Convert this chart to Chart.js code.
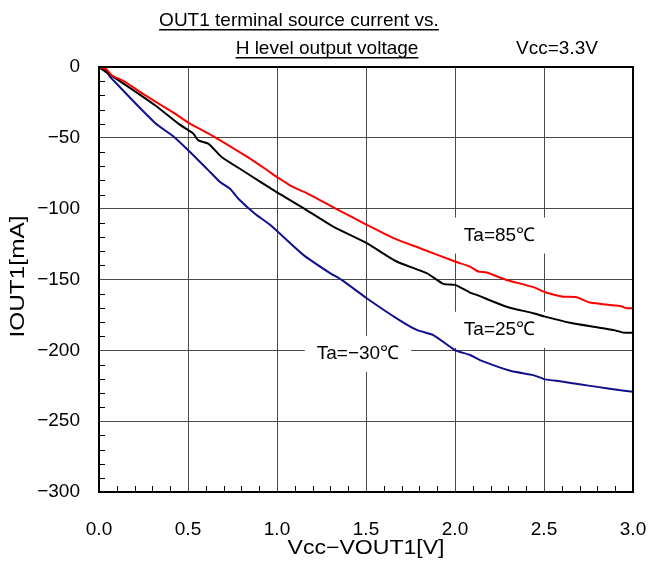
<!DOCTYPE html>
<html>
<head>
<meta charset="utf-8">
<script src="https://cdn.jsdelivr.net/npm/chart.js@4/dist/chart.umd.min.js"></script>
<style>
	html, body { margin: 0; padding: 0; background: #fff; }
	#wrap { width: 648px; height: 564px; }
</style>
</head>
<body>
<div id="wrap"><canvas id="myChart"></canvas></div>
<script>
// values
const v85 = [0, 0.04, 0.071, 0.146, 0.258, 0.427, 0.511, 0.633, 0.82, 0.933, 1.0, 1.045, 1.083, 1.167, 1.335, 1.504, 1.654, 1.803, 2.0, 2.084, 2.131, 2.178, 2.29, 2.44, 2.506, 2.608, 2.683, 2.758, 2.927, 2.964, 3.0];
const i85 = [0, -1.5, -5.8, -10.5, -19.9, -32.9, -40, -48.2, -62.4, -71.8, -77.7, -81.2, -84.3, -89, -100.3, -111.4, -120.8, -127.9, -137.3, -140.9, -144.4, -145.1, -150.3, -155.4, -159, -162.1, -162.5, -166.3, -168.7, -170.3, -170.3];

const v25 = [0, 0.052, 0.165, 0.315, 0.446, 0.502, 0.53, 0.558, 0.614, 0.689, 0.82, 0.998, 1.045, 1.148, 1.316, 1.504, 1.672, 1.841, 1.934, 2.0, 2.084, 2.122, 2.29, 2.44, 2.506, 2.646, 2.777, 2.89, 2.946, 3.0];
const i25 = [0, -4.6, -14, -27, -40, -44.7, -47, -51.8, -54.1, -63.5, -74.1, -88.3, -91.8, -99.6, -112.6, -124.3, -137.3, -145.5, -153.1, -153.8, -159.2, -160.9, -169.2, -173.8, -176.2, -180.5, -183.3, -185.6, -187.5, -187.5];

const vM30 = [0, 0.043, 0.062, 0.315, 0.417, 0.511, 0.624, 0.68, 0.736, 0.783, 0.876, 0.961, 1.148, 1.298, 1.363, 1.504, 1.672, 1.785, 1.878, 2.0, 2.084, 2.14, 2.31, 2.44, 2.506, 2.6, 2.7, 2.8, 2.9, 3.0];
const iM30 = [0, -3.4, -6.9, -39.5, -48.9, -60, -74.1, -81.2, -85.9, -93, -103.6, -111.4, -132.6, -145.5, -150.3, -163.2, -177.4, -185.6, -189.2, -199.8, -203.3, -206.9, -214.4, -217.5, -220.5, -222, -224, -225.8, -227.6, -229.3];

const seriesNames = ['Ta=85℃', 'Ta=25℃', 'Ta=−30℃'];
const titleLines = ['OUT1 terminal source current vs.', 'H level output voltage'];
const condText = 'Vcc=3.3V';
const xTitle = 'Vcc−VOUT1[V]';
const yTitle = 'IOUT1[mA]';

// where the curve names sit, in data units
const labelSpots = [[2.25, -119], [2.25, -185.5], [1.455, -202.5]];

const FONT = '"Liberation Sans", Arial, sans-serif';

function toPoints(xs, ys) {
	return xs.map((x, k) => ({ x: x, y: ys[k] }));
}

// draw text stretched to a given width (the original uses a wide gothic face)
function wideText(ctx, text, x, y, width) {
	const w = ctx.measureText(text).width;
	ctx.save();
	ctx.translate(x, y);
	ctx.scale(width / w, 1);
	ctx.fillText(text, 0, 0);
	ctx.restore();
}

const decorations = {
	id: 'decorations',
	beforeDatasetsDraw(chart) {
		const ctx = chart.ctx;
		const xs = chart.scales.x, ys = chart.scales.y;
		ctx.save();
		// minor ticks, pointing inward
		ctx.strokeStyle = '#000';
		ctx.lineWidth = 1;
		ctx.beginPath();
		for (let v = -290; v < 0; v += 10) {
			if (v % 50 === 0) continue;
			const py = Math.round(ys.getPixelForValue(v)) + 0.5;
			ctx.moveTo(xs.left, py);
			ctx.lineTo(xs.left + 6, py);
		}
		for (let k = 1; k < 30; k++) {
			if (k % 5 === 0) continue;
			const px = Math.round(xs.getPixelForValue(k / 10)) + 0.5;
			ctx.moveTo(px, ys.bottom);
			ctx.lineTo(px, ys.bottom - 6);
		}
		ctx.stroke();

		// curve names on white boxes
		ctx.font = '19px ' + FONT;
		ctx.textAlign = 'center';
		ctx.textBaseline = 'middle';
		labelSpots.forEach((p, k) => {
			const px = xs.getPixelForValue(p[0]);
			const py = ys.getPixelForValue(p[1]);
			const w = ctx.measureText(seriesNames[k]).width + 24;
			ctx.fillStyle = '#fff';
			ctx.fillRect(px - w / 2, py - 18, w, 36);
			ctx.fillStyle = '#000';
			ctx.fillText(seriesNames[k], px, py);
		});
		ctx.restore();
	},
	afterDraw(chart) {
		const ctx = chart.ctx;
		const a = chart.chartArea;
		ctx.save();
		// frame
		ctx.strokeStyle = '#000';
		ctx.lineWidth = 2;
		ctx.strokeRect(a.left, a.top, a.right - a.left, a.bottom - a.top);

		// title, underlined
		ctx.fillStyle = '#000';
		ctx.font = '19px ' + FONT;
		ctx.textAlign = 'center';
		ctx.textBaseline = 'alphabetic';
		const centres = [[299, 26], [327, 54]];
		titleLines.forEach((t, k) => {
			const cx = centres[k][0], cy = centres[k][1];
			ctx.fillText(t, cx, cy);
			const w = ctx.measureText(t).width;
			ctx.fillRect(cx - w / 2, cy + 3, w, 1.5);
		});
		ctx.fillText(condText, 557, 54);

		// axis titles
		ctx.font = '20px ' + FONT;
		ctx.textBaseline = 'middle';
		wideText(ctx, xTitle, (a.left + a.right) / 2, 548, 157);
		ctx.translate(18, (a.top + a.bottom) / 2 - 3);
		ctx.rotate(-Math.PI / 2);
		wideText(ctx, yTitle, 0, 0, 122);
		ctx.restore();
	}
};

const canvas = document.getElementById('myChart');

const config = {
	type: 'line',
	data: {
		datasets: [
			{ label: seriesNames[0], data: toPoints(v85, i85), borderColor: '#ff0000' },
			{ label: seriesNames[1], data: toPoints(v25, i25), borderColor: '#000000' },
			{ label: seriesNames[2], data: toPoints(vM30, iM30), borderColor: '#10108c' }
		]
	},
	options: {
		responsive: true,
		maintainAspectRatio: false,
		animation: false,
		layout: { padding: { top: 67, right: 15, left: 0, bottom: 0 } },
		elements: {
			point: { radius: 0 },
			line: { borderWidth: 2, tension: 0.2 }
		},
		plugins: {
			legend: { display: false },
			tooltip: { enabled: false }
		},
		scales: {
			x: {
				type: 'linear',
				min: 0,
				max: 3,
				afterFit(scale) {
					scale.height = 72;
					scale.paddingLeft = 0;
					scale.paddingRight = 0;
				},
				ticks: {
					stepSize: 0.5,
					padding: 26,
					color: '#000',
					font: { size: 19, family: FONT },
					callback: v => Number(v).toFixed(1)
				},
				grid: { color: '#4a4a4a', lineWidth: 1, drawTicks: false },
				border: { color: '#000', width: 2 }
			},
			y: {
				type: 'linear',
				min: -300,
				max: 0,
				afterFit(scale) { scale.width = 99; },
				ticks: {
					stepSize: 50,
					padding: 19,
					color: '#000',
					font: { size: 19, family: FONT },
					callback: v => String(v).replace('-', '−')
				},
				grid: { color: '#4a4a4a', lineWidth: 1, drawTicks: false },
				border: { color: '#000', width: 2 }
			}
		}
	},
	plugins: [decorations]
};

var myChart = new Chart(canvas, config);
</script>
</body>
</html>
